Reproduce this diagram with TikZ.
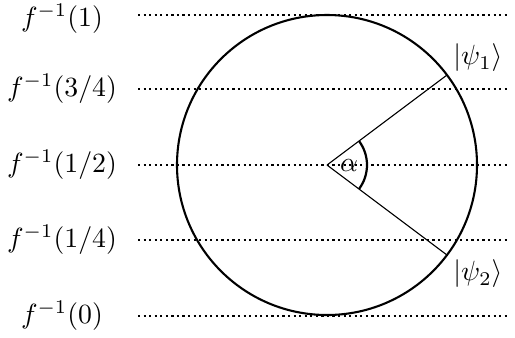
\documentclass[tikz,border=0pt]{standalone}
\usetikzlibrary{calc}
\begin{document}
\begin{tikzpicture}[x=0.36pt,y=-0.36pt,
  level/.style={line width=0.8pt,dash pattern=on 0.8pt off 1.2pt},
  lbl/.style={inner sep=0pt}]
\useasboundingbox (0,0) rectangle (515,337);
\coordinate (c) at (327,165);
\foreach \y/\n in {15/a,89/b,165/c,240/d,316/e}{
  \coordinate (L\n) at (138,\y);
  \coordinate (R\n) at (510,\y);
  \draw[level] (L\n) -- (R\n);
}
\node[lbl] (ta) at (62,19) {$f^{-1}(1)$};
\node[lbl] (tb) at (62,89) {$f^{-1}(3/4)$};
\node[lbl] (tc) at (62,165) {$f^{-1}(1/2)$};
\node[lbl] (td) at (62,240) {$f^{-1}(1/4)$};
\node[lbl] (te) at (62,316) {$f^{-1}(0)$};
\draw[line width=0.75pt] (c) circle[radius=150];
\draw[line width=0.4pt] (c) -- ++(36.87:150) coordinate (p1);
\draw[line width=0.4pt] (c) -- ++(-36.87:150) coordinate (p2);
\draw[line width=0.8pt] ($(c)+(-36.87:40)$) arc[start angle=-36.87,end angle=36.87,radius=40];
\node[lbl] (al) at (349,166) {$\alpha$};
\node[lbl] (s1) at (478,58) {$|\psi_1\rangle$};
\node[lbl] (s2) at (478,274) {$|\psi_2\rangle$};
\end{tikzpicture}
\end{document}
